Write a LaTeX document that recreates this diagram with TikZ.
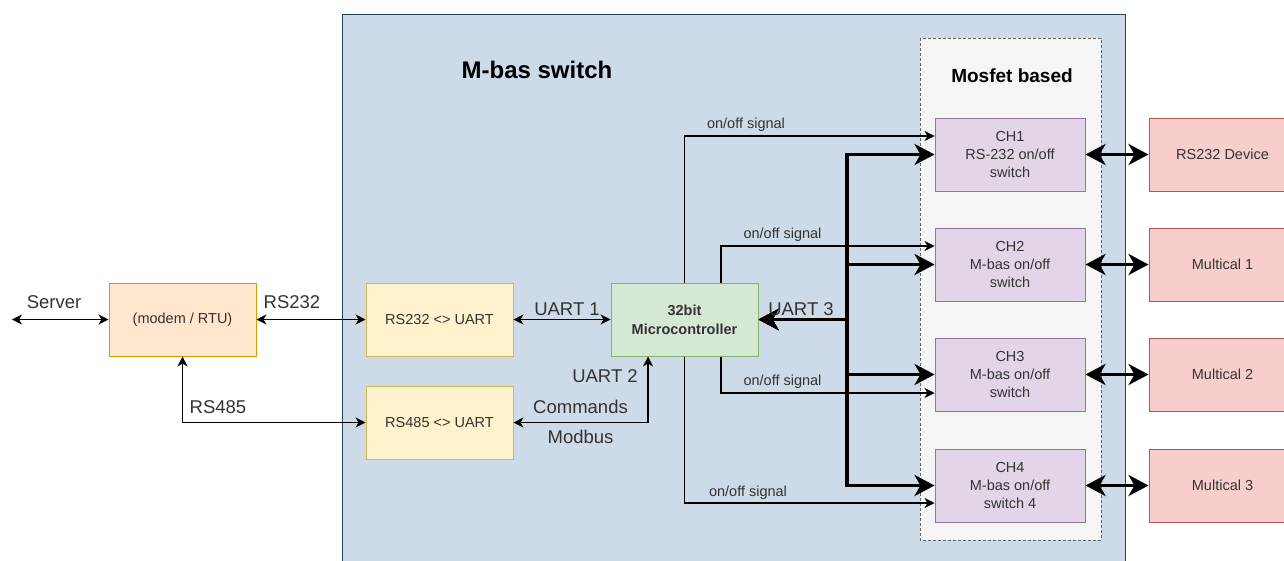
\documentclass[tikz,border=0pt]{standalone}
\usepackage{fontspec}
\setmainfont{Liberation Sans}
\usetikzlibrary{arrows.meta,calc}
\definecolor{contfill}{HTML}{CDDAE7}
\definecolor{contline}{HTML}{23445D}
\definecolor{mosfill}{HTML}{F5F5F5}
\definecolor{mosline}{HTML}{666666}
\definecolor{orfill}{HTML}{FFE6CC}
\definecolor{orline}{HTML}{D79B00}
\definecolor{yefill}{HTML}{FFF2CC}
\definecolor{yeline}{HTML}{D6B656}
\definecolor{grfill}{HTML}{D5E8D4}
\definecolor{grline}{HTML}{82B366}
\definecolor{pufill}{HTML}{E1D5E7}
\definecolor{puline}{HTML}{9673A6}
\definecolor{refill}{HTML}{F8CECC}
\definecolor{reline}{HTML}{B85450}
\definecolor{txt}{HTML}{333333}
\tikzset{
  box/.style={draw, line width=1pt, minimum width=147pt, minimum height=73pt, inner sep=0pt,
    align=center, font=\fontsize{14.5}{18}\selectfont, text=txt},
  chbox/.style={box, minimum width=150pt, fill=pufill, draw=puline},
  devbox/.style={box, fill=refill, draw=reline},
  lbl/.style={anchor=base, inner sep=0pt, font=\fontsize{18.5}{22}\selectfont, text=txt},
  sig/.style={anchor=base, inner sep=0pt, font=\fontsize{14.5}{18}\selectfont, text=txt},
  thinarr/.style={line width=1.1pt, draw=black, {Stealth[length=10pt,width=10pt,inset=3pt]}-{Stealth[length=10pt,width=10pt,inset=3pt]}},
  thinone/.style={line width=1.1pt, draw=black, -{Stealth[length=10pt,width=10pt,inset=3pt]}},
  thickarr/.style={line width=3.5pt, draw=black, line join=miter, {Stealth[length=20pt,width=21pt,inset=6pt]}-{Stealth[length=20pt,width=21pt,inset=6pt]}}
}
\begin{document}
\begin{tikzpicture}[x=1pt,y=-1pt]
\useasboundingbox (0,0) rectangle (1284,560);
\clip (0,0) rectangle (1284,560);
\fill[white] (0,0) rectangle (1284,560);
% container
\draw[fill=contfill, draw=contline, line width=1pt] (342,14) rectangle (1125,580);
\node[anchor=base, inner sep=0pt, font=\fontsize{24}{28}\selectfont\bfseries] (title) at (537,78) {M-bas switch};
% mosfet group
\draw[fill=mosfill, draw=mosline, line width=0.8pt, dash pattern=on 3pt off 2pt] (920,38) rectangle (1101,540);
\node[anchor=base, inner sep=0pt, font=\fontsize{19}{22}\selectfont\bfseries] (mosl) at (1012,82) {Mosfet based};
% boxes
\node[box, fill=orfill, draw=orline] (modem) at (182.5,319.5) {(modem / RTU)};
\node[box, fill=yefill, draw=yeline] (u232) at (439.5,319.5) {RS232 <> UART};
\node[box, fill=yefill, draw=yeline] (u485) at (439.5,422.5) {RS485 <> UART};
\node[box, fill=grfill, draw=grline, font=\fontsize{14.5}{19}\selectfont\bfseries] (mc) at (684.5,319.5) {32bit\\Microcontroller};
\node[chbox] (ch1) at (1010,154.5) {CH1\\RS-232 on/off\\switch};
\node[chbox] (ch2) at (1010,264.5) {CH2\\M-bas on/off\\switch};
\node[chbox] (ch3) at (1010,374.5) {CH3\\M-bas on/off\\switch};
\node[chbox] (ch4) at (1010,485.5) {CH4\\M-bas on/off\\switch 4};
\node[devbox] (d1) at (1222.5,154.5) {RS232 Device};
\node[devbox] (d2) at (1222.5,264.5) {Multical 1};
\node[devbox] (d3) at (1222.5,374.5) {Multical 2};
\node[devbox] (d4) at (1222.5,485.5) {Multical 3};
% left connectors
\coordinate (srv) at (12,319.5);
\draw[thinarr] (srv) -- (modem.west);
\node[lbl] (lsrv) at (54,308) {Server};
\draw[thinarr] (modem.east) -- (u232.west);
\node[lbl] (l232) at (292,308) {RS232};
\draw[thinarr] (u485.west) -| (modem.south);
\node[lbl] (l485) at (218,413) {RS485};
\draw[thinarr] (u232.east) -- (mc.west);
\node[lbl] (lu1) at (567,315) {UART 1};
\draw[thinarr] (u485.east) -| ([xshift=-36.5pt]mc.south);
\node[lbl] (lu2) at (605,382) {UART 2};
\node[lbl] (lcmd) at (580.5,413) {Commands};
\node[lbl] (lmod) at (580.5,443) {Modbus};
% UART 3 bus
\coordinate (bus) at (847,319.5);
\draw[thickarr] (mc.east) -- (bus) |- (ch1.west);
\draw[thickarr] (mc.east) -- (bus) |- (ch2.west);
\draw[thickarr] (mc.east) -- (bus) |- (ch3.west);
\draw[thickarr] (mc.east) -- (bus) |- (ch4.west);
\node[lbl] (lu3) at (801,315) {UART 3};
% on/off signals
\draw[thinone] (mc.north) |- ([yshift=18.5pt]ch1.west);
\draw[thinone] ([xshift=36.5pt]mc.north) |- ([yshift=18.5pt]ch2.west);
\draw[thinone] ([xshift=36.5pt]mc.south) |- ([yshift=-18.5pt]ch3.west);
\draw[thinone] (mc.south) |- ([yshift=-17.5pt]ch4.west);
\node[sig] (s1) at (746,128) {on/off signal};
\node[sig] (s2) at (782.5,238) {on/off signal};
\node[sig] (s3) at (782.5,385) {on/off signal};
\node[sig] (s4) at (748,496) {on/off signal};
% devices
\draw[thickarr] (ch1.east) -- (d1.west);
\draw[thickarr] (ch2.east) -- (d2.west);
\draw[thickarr] (ch3.east) -- (d3.west);
\draw[thickarr] (ch4.east) -- (d4.west);
\end{tikzpicture}
\end{document}
